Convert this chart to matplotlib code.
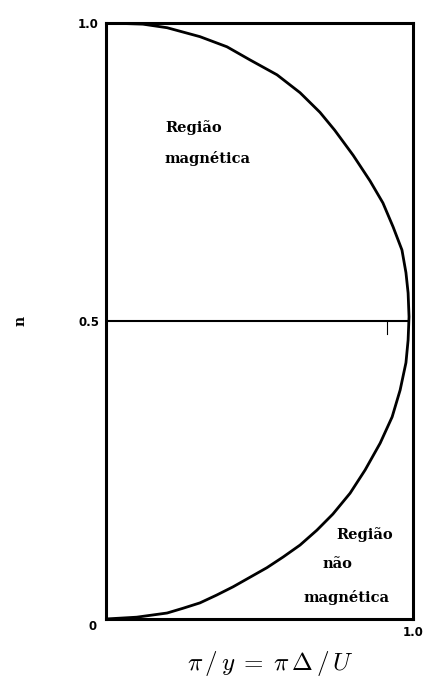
import matplotlib.pyplot as plt

plt.rcParams["mathtext.fontset"] = "cm"

# phase boundary n(x), upper branch (magnetic side) from x = 0 out to the nose
upperX = [0.0, 0.12, 0.199, 0.306, 0.394, 0.469, 0.557, 0.632, 0.697, 0.745, 0.805, 0.860,
          0.902, 0.935, 0.964, 0.977, 0.984, 0.987]
upperN = [1.0, 0.998, 0.992, 0.977, 0.960, 0.938, 0.913, 0.883, 0.850, 0.820, 0.778, 0.735,
          0.698, 0.658, 0.619, 0.581, 0.547, 0.507]

# lower branch, from the nose back down to the origin
lowerX = [0.987, 0.984, 0.977, 0.958, 0.932, 0.893, 0.844, 0.795, 0.739, 0.687, 0.632, 0.577,
          0.524, 0.469, 0.414, 0.360, 0.306, 0.251, 0.199, 0.10, 0.0]
lowerN = [0.507, 0.468, 0.430, 0.384, 0.339, 0.295, 0.250, 0.211, 0.176, 0.149, 0.124, 0.104,
          0.086, 0.070, 0.054, 0.040, 0.027, 0.018, 0.010, 0.003, 0.0]

halfFilling = 0.5

fig = plt.figure(figsize=[4.23, 6.79], dpi=100)
ax = fig.add_axes([0.2506, 0.0884, 0.7258, 0.8778])

ax.plot(upperX + lowerX, upperN + lowerN, color="black", linewidth=2.0,
        solid_joinstyle="round")
ax.plot([0, 0.98], [halfFilling, halfFilling], color="black", linewidth=1.5)
ax.plot([0.915, 0.915], [halfFilling, 0.478], color="black", linewidth=0.8)

ax.set_xlim(0, 1)
ax.set_ylim(0, 1)
for spine in ax.spines.values():
    spine.set_linewidth(2.2)

ax.set_yticks([0.5, 1.0])
ax.set_yticklabels(["0.5", "1.0"])
ax.set_xticks([1.0])
ax.set_xticklabels(["1.0"])
ax.tick_params(length=0, labelsize=8.5, pad=5)
for lab in ax.get_xticklabels() + ax.get_yticklabels():
    lab.set_fontweight("bold")
ax.text(-0.03, -0.012, "0", ha="right", va="center", fontsize=8.5, fontweight="bold")

ax.text(-0.28, 0.5, "n", rotation=90, ha="center", va="center", fontsize=10,
        family="DejaVu Serif", fontweight="bold")
ax.text(0.534, -0.075, r"$\pi\,/\,y\;=\;\pi\,\Delta\,/\,U$", ha="center", va="center",
        fontsize=18, transform=ax.transAxes)

serif = dict(family="DejaVu Serif", fontsize=10.5, fontweight="bold", va="center", ha="left")
ax.text(0.192, 0.824, "Região", **serif)
ax.text(0.192, 0.773, "magnética", **serif)
ax.text(0.749, 0.141, "Região", **serif)
ax.text(0.704, 0.093, "não", **serif)
ax.text(0.642, 0.036, "magnética", **serif)

fig.savefig("out.png", dpi=100)
